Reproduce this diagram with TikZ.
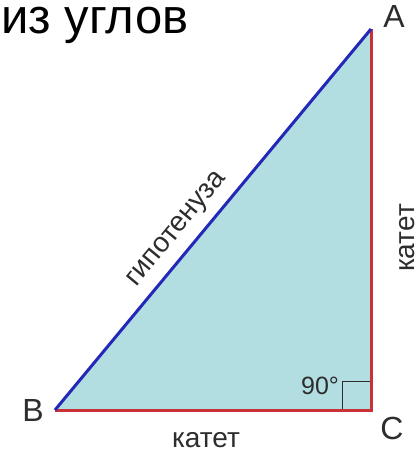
\documentclass[tikz,border=0pt]{standalone}
\usepackage{fontspec}
\setmainfont{Liberation Sans}
\usetikzlibrary{positioning}
\definecolor{legred}{RGB}{200,50,55}
\definecolor{hypblue}{RGB}{35,40,185}
\definecolor{trifill}{RGB}{178,222,226}
\definecolor{txtgray}{RGB}{45,45,45}

\begin{document}
\begin{tikzpicture}[x=1pt,y=-1pt,
    leg/.style={draw=legred,line width=3pt},
    hyp/.style={draw=hypblue,line width=3pt},
    vertex/.style={font=\fontsize{32}{32}\selectfont,text=txtgray,inner sep=0pt},
    side/.style={font=\fontsize{28}{28}\selectfont,text=txtgray,inner sep=0pt}]
  \useasboundingbox (0,0) rectangle (419,452);
  % triangle
  \coordinate (A) at (371,29);
  \coordinate (B) at (55,410);
  \coordinate (C) at (371,410);
  \fill[trifill] (A) -- (B) -- (C) -- cycle;
  \draw[txtgray,thin] ([xshift=-29pt]C) |- ([yshift=29pt]C);
  \draw[leg] (B) -- (C) -- (A);
  \draw[hyp] (B) -- (A);
  % labels
  \node[anchor=base west,inner sep=0pt,font=\fontsize{49}{49}\selectfont] (title) at (1,34) {из углов};
  \node[vertex] (lA) at (394,16) {A};
  \node[vertex] (lB) at (33,410) {B};
  \node[vertex] (lC) at (392,428) {C};
  \node[side,rotate=50.3] (hypo) at (178,230) {гипотенуза};
  \node[side,rotate=90,anchor=base] (legr) at (414,238) {катет};
  \node[side] (legb) at (206,440) {катет};
  \node[side,font=\fontsize{25}{25}\selectfont] (deg) at (320,386) {90°};
\end{tikzpicture}
\end{document}
